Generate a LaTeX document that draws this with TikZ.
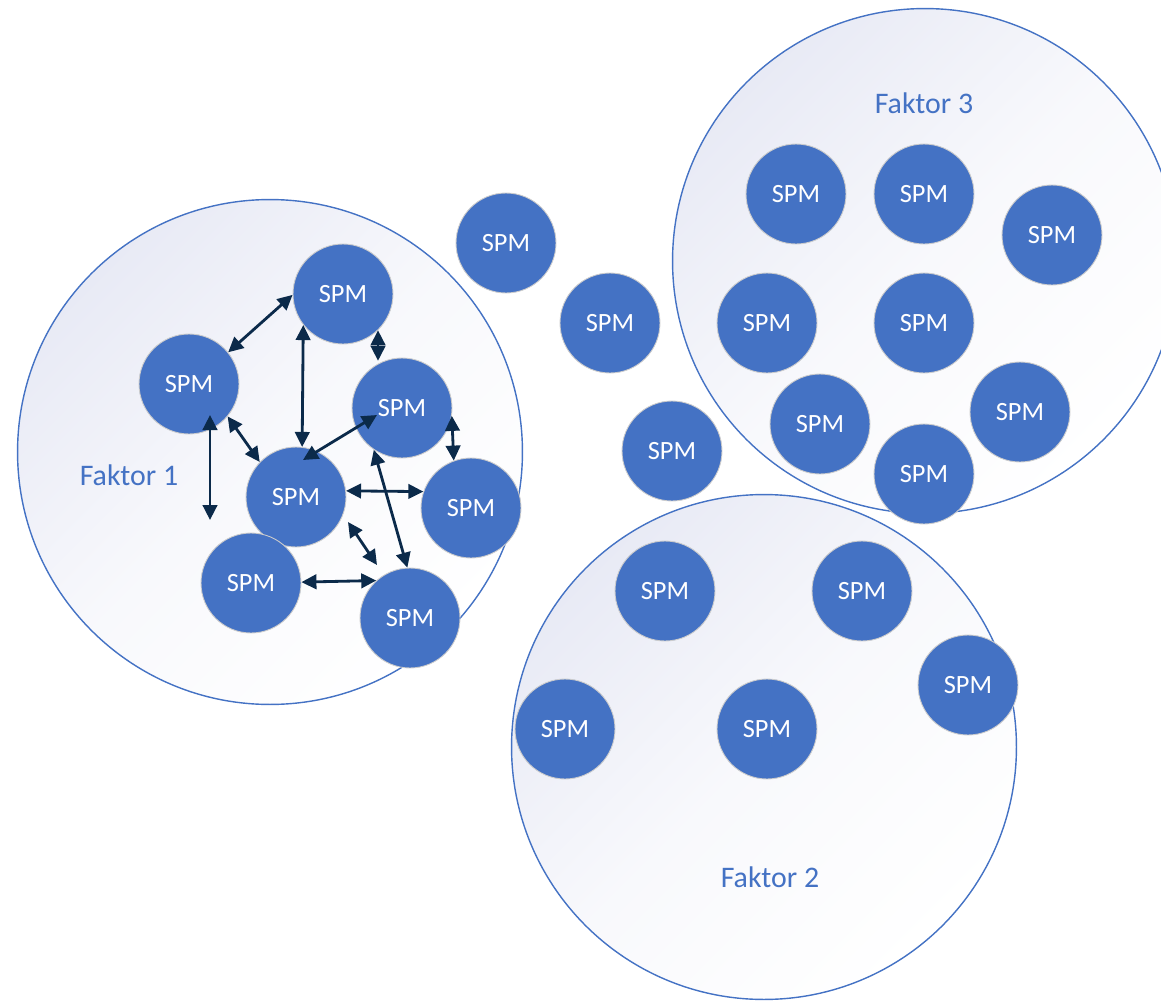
\documentclass[tikz,border=0pt]{standalone}
\usepackage{fontspec}
\setmainfont{Carlito}
\usepackage{tikz}
\usetikzlibrary{arrows.meta}
\usetikzlibrary{calc,positioning}

\definecolor{spmblau}{HTML}{4472C4}
\definecolor{pfeilfarbe}{HTML}{0B2A4A}
\definecolor{lavendel}{HTML}{E8EAF5}

\tikzset{
    faktor/.style={circle, draw=spmblau, line width=0.8pt, top color=lavendel, bottom color=white, middle color=white!70!lavendel, shading angle=45, minimum size=10.1cm, inner sep=0pt},
    spm/.style={circle, fill=spmblau, draw=black!20, line width=0.5pt, minimum size=2cm, inner sep=0pt, text=white, font=\fontsize{15}{18}\selectfont},
    titel/.style={text=spmblau, font=\fontsize{17}{20}\selectfont},
    pfeil/.style={<->, draw=pfeilfarbe, line width=1.6pt},
}

\begin{document}
\begin{tikzpicture}[x=0.02cm, y=-0.02cm, >={Triangle[length=0.3cm,width=0.29cm]}]

    \useasboundingbox (0,0) rectangle (1161,1001);

    \node[faktor] (K1) at (270,452) {};
    \node[faktor] (K3) at (925,261) {};
    \node[faktor] (K2) at (764,747) {};

    \node[titel] (T1) at (129,475) {Faktor 1};
    \node[titel] (T3) at (924,103) {Faktor 3};
    \node[titel] (T2) at (770,877) {Faktor 2};

    \node[spm] (A) at (343,294) {SPM};
    \node[spm] (B) at (189,384) {SPM};
    \node[spm] (C) at (402,408) {SPM};
    \node[spm] (D) at (296,497) {SPM};
    \node[spm] (E) at (471,508) {SPM};
    \node[spm] (F) at (251,583) {SPM};
    \node[spm] (G) at (410,618) {SPM};

    \node[spm] (P1) at (506,243) {SPM};
    \node[spm] (P2) at (610,323) {SPM};
    \node[spm] (P3) at (672,451) {SPM};

    \node[spm] (Q1) at (796,194) {SPM};
    \node[spm] (Q2) at (924,194) {SPM};
    \node[spm] (Q3) at (1052,235) {SPM};
    \node[spm] (Q4) at (767,323) {SPM};
    \node[spm] (Q5) at (924,323) {SPM};
    \node[spm] (Q6) at (820,424) {SPM};
    \node[spm] (Q7) at (1020,412) {SPM};
    \node[spm] (Q8) at (924,474) {SPM};

    \node[spm] (R1) at (665,591) {SPM};
    \node[spm] (R2) at (862,591) {SPM};
    \node[spm] (R3) at (968,685) {SPM};
    \node[spm] (R4) at (565,729) {SPM};
    \node[spm] (R5) at (767,729) {SPM};

    \draw[pfeil] (B.39) -- (A.181);
    \draw[pfeil] (A.218) -- (D.83);
    \draw[pfeil] (A.-46) -- ++(0,30.5);
    \draw[pfeil] ($(B)+(21,31)$) -- ++(0,105);
    \draw[pfeil] (B.-40) -- (D.136);
    \draw[pfeil] ($(D)+(7,-37)$) -- ($(C)+(-25,7)$);
    \draw[pfeil] (C.-9) -- (E.110);
    \draw[pfeil] (D.7) -- (E.161);
    \draw[pfeil] (C.236) -- (G.93);
    \draw[pfeil] ($(D)+(52,25)$) -- ($(G)+(-33,-53)$);
    \draw[pfeil] (F.1) -- (G.132);

\end{tikzpicture}
\end{document}
